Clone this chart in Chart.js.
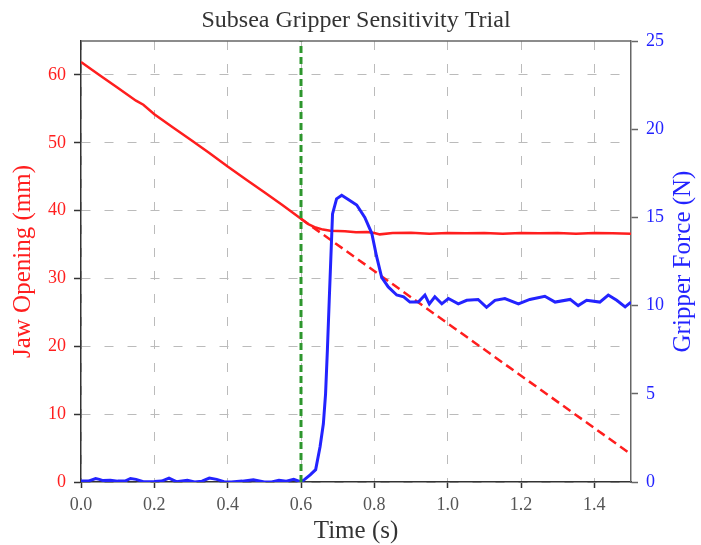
<!DOCTYPE html>
<html>
<head>
<meta charset="utf-8">
<script src="https://cdn.jsdelivr.net/npm/chart.js@4"></script>
<style>
  html, body { margin: 0; padding: 0; background: #fff; }
  #chart { display: block; }
</style>
</head>
<body>
<canvas id="chart" width="701" height="545"></canvas>
<script>
// --- data ---
const jawTime = [0, 0.05, 0.1, 0.15, 0.17, 0.2, 0.25, 0.3, 0.35, 0.4, 0.45, 0.5, 0.55, 0.6,
  0.62, 0.64, 0.66, 0.68, 0.7, 0.72, 0.75, 0.78, 0.8, 0.815, 0.85, 0.9, 0.95, 1.0, 1.05,
  1.1, 1.15, 1.2, 1.25, 1.3, 1.35, 1.4, 1.45, 1.5];
const jawOpening = [61.9, 60.0, 58.1, 56.2, 55.6, 54.2, 52.3, 50.4, 48.5, 46.5, 44.6, 42.7, 40.8, 38.8,
  38.0, 37.5, 37.2, 37.05, 37.0, 36.95, 36.8, 36.85, 36.7, 36.5, 36.7, 36.75, 36.6, 36.7, 36.65,
  36.7, 36.6, 36.7, 36.65, 36.7, 36.6, 36.7, 36.65, 36.6];

const forceTime = [0, 0.02, 0.04, 0.05, 0.06, 0.08, 0.1, 0.12, 0.135, 0.15, 0.17, 0.2, 0.22, 0.24,
  0.26, 0.29, 0.31, 0.33, 0.35, 0.37, 0.39, 0.41, 0.44, 0.47, 0.5, 0.52, 0.54, 0.56, 0.58, 0.6,
  0.61, 0.625, 0.64, 0.652, 0.661, 0.667, 0.672, 0.677, 0.686, 0.697, 0.711, 0.73, 0.752, 0.774,
  0.793, 0.806, 0.82, 0.838, 0.861, 0.88, 0.897, 0.92, 0.938, 0.95, 0.965, 0.984, 1.002, 1.029,
  1.052, 1.083, 1.106, 1.129, 1.156, 1.193, 1.224, 1.265, 1.293, 1.334, 1.356, 1.379, 1.415,
  1.438, 1.461, 1.484, 1.5];
const gripForce = [0.05, 0.05, 0.2, 0.15, 0.08, 0.1, 0.05, 0.05, 0.2, 0.15, 0.02, 0.03, 0.05, 0.22,
  0.02, 0.1, 0.0, 0.05, 0.22, 0.15, 0.02, 0.0, 0.05, 0.12, 0.0, 0.0, 0.1, 0.05, 0.15, 0.0,
  0.15, 0.4, 0.7, 2.0, 3.3, 5.0, 7.5, 10.3, 15.2, 16.05, 16.25, 16.0, 15.7, 15.0,
  14.1, 12.8, 11.6, 11.06, 10.6, 10.5, 10.2, 10.2, 10.6, 10.1, 10.5, 10.1, 10.4, 10.1,
  10.3, 10.35, 9.9, 10.3, 10.4, 10.1, 10.35, 10.53, 10.2, 10.35, 10.0, 10.3, 10.2,
  10.6, 10.3, 9.93, 10.2];

// extrapolated opening (dashed) and contact instant (green marker)
const projTime = [0.6, 1.5];
const projOpening = [38.8, 4.1];
const contactTime = [0.6, 0.6];
const contactSpan = [0, 65];

const xTicks = [0, 0.2, 0.4, 0.6, 0.8, 1.0, 1.2, 1.4];
const jawTicks = [0, 10, 20, 30, 40, 50, 60];
const forceTicks = [0, 5, 10, 15, 20, 25];

const RED = 'rgb(255,30,30)';
const BLUE = 'rgb(35,35,255)';
const GREEN = 'rgb(45,150,45)';
const SERIF = "'Liberation Serif', 'DejaVu Serif', serif";

const pts = (xs, ys) => xs.map((x, i) => ({ x, y: ys[i] }));
const keepTicks = (list) => (axis) => {
  axis.ticks = list.map(v => ({ value: v }));
};

// right axis title reads bottom-to-top, so draw it here
const rightTitle = {
  id: 'rightTitle',
  afterDraw(chart) {
    const { ctx, chartArea } = chart;
    ctx.save();
    // top spine
    ctx.strokeStyle = '#666';
    ctx.lineWidth = 1.5;
    ctx.beginPath();
    ctx.moveTo(chartArea.left, chartArea.top);
    ctx.lineTo(chartArea.right, chartArea.top);
    ctx.stroke();
    ctx.translate(683, (chartArea.top + chartArea.bottom) / 2);
    ctx.rotate(-Math.PI / 2);
    ctx.fillStyle = BLUE;
    ctx.font = '25px ' + SERIF;
    ctx.textAlign = 'center';
    ctx.textBaseline = 'middle';
    ctx.fillText('Gripper Force (N)', 0, 0);
    ctx.restore();
  }
};

new Chart(document.getElementById('chart'), {
  type: 'line',
  data: {
    datasets: [
      {
        data: pts(contactTime, contactSpan),
        yAxisID: 'y',
        borderColor: GREEN,
        borderWidth: 3,
        borderDash: [7, 4],
        pointRadius: 0
      },
      {
        data: pts(forceTime, gripForce),
        yAxisID: 'y1',
        borderColor: BLUE,
        borderWidth: 3,
        pointRadius: 0
      },
      {
        data: pts(jawTime, jawOpening),
        yAxisID: 'y',
        borderColor: RED,
        borderWidth: 2.5,
        pointRadius: 0
      },
      {
        data: pts(projTime, projOpening),
        yAxisID: 'y',
        borderColor: RED,
        borderWidth: 2.5,
        borderDash: [9, 5],
        pointRadius: 0
      }
    ]
  },
  options: {
    responsive: false,
    animation: false,
    devicePixelRatio: 1,
    layout: { padding: 0 },
    plugins: {
      legend: { display: false },
      tooltip: { enabled: false },
      title: {
        display: true,
        text: 'Subsea Gripper Sensitivity Trial',
        fullSize: false,
        color: '#333',
        font: { family: SERIF, size: 24, weight: 'normal', lineHeight: 1.2 },
        padding: { top: 6, bottom: 6.2 }
      }
    },
    scales: {
      x: {
        type: 'linear',
        min: 0,
        max: 1.5,
        afterBuildTicks: keepTicks(xTicks),
        afterFit: (s) => { s.height = 63; },
        ticks: {
          color: '#555',
          font: { family: SERIF, size: 18 },
          padding: 6,
          maxRotation: 0,
          callback: (v) => v.toFixed(1)
        },
        grid: { color: '#bbb', lineWidth: 1, tickLength: 6, tickColor: '#333', tickWidth: 1.5 },
        border: { color: '#333', width: 1.5, dash: [9, 14] },
        title: {
          display: true,
          text: 'Time (s)',
          color: '#333',
          font: { family: SERIF, size: 25, lineHeight: 1 },
          padding: { top: 0, bottom: 1 }
        }
      },
      y: {
        position: 'left',
        min: 0,
        max: 65,
        afterBuildTicks: keepTicks(jawTicks),
        afterFit: (s) => { s.width = 81; },
        ticks: {
          color: RED,
          font: { family: SERIF, size: 18 },
          padding: 8
        },
        grid: { color: '#bbb', lineWidth: 1, tickLength: 7, tickColor: '#333', tickWidth: 1.5 },
        border: { color: '#333', width: 1.5, dash: [9, 14] },
        title: {
          display: true,
          text: 'Jaw Opening (mm)',
          color: RED,
          font: { family: SERIF, size: 25, lineHeight: 1 },
          padding: { top: 10.5, bottom: 0 }
        }
      },
      y1: {
        position: 'right',
        min: 0,
        max: 25,
        afterBuildTicks: keepTicks(forceTicks),
        afterFit: (s) => { s.width = 70; },
        ticks: {
          color: BLUE,
          font: { family: SERIF, size: 18 },
          padding: 8
        },
        grid: { drawOnChartArea: false, tickLength: 7, tickColor: '#666', tickWidth: 1.5 },
        border: { color: '#666', width: 1.5 }
      }
    }
  },
  plugins: [rightTitle]
});
</script>
</body>
</html>
